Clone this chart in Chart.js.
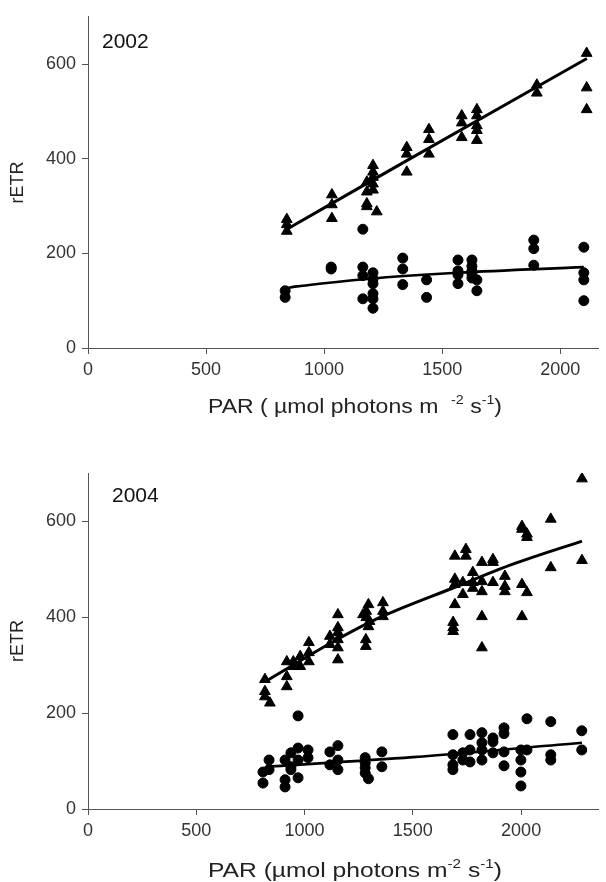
<!DOCTYPE html>
<html>
<head>
<meta charset="utf-8">
<script src="https://cdn.jsdelivr.net/npm/chart.js@4.4.1/dist/chart.umd.min.js"></script>
<style>
  body { margin: 0; background: #fff; }
  canvas { position: absolute; left: 0; }
</style>
</head>
<body>
<canvas id="chart2002" width="606" height="420" style="top:0"></canvas>
<canvas id="chart2004" width="606" height="462" style="top:420px"></canvas>
<script>
// ticks shared by both panels
const xTicks = [0, 500, 1000, 1500, 2000];
const yTicks = [0, 200, 400, 600];

// 2002 - triangles [PAR, rETR]
const tri2002 = [
  [842, 272], [842, 261], [842, 247],
  [1033, 324], [1033, 303], [1033, 274],
  [1181, 351], [1181, 330], [1181, 305], [1181, 299],
  [1207, 386], [1207, 372], [1207, 361], [1207, 347], [1207, 334], [1223, 288],
  [1350, 424], [1350, 410], [1350, 372],
  [1444, 462], [1444, 441], [1444, 410],
  [1583, 491], [1583, 476], [1583, 445],
  [1647, 504], [1647, 491], [1647, 470], [1647, 460], [1647, 439],
  [1901, 556], [1901, 539],
  [2112, 623], [2112, 550], [2112, 504]
];
// 2002 - circles
const dot2002 = [
  [835, 121], [835, 107],
  [1030, 171], [1030, 167],
  [1164, 251], [1164, 171], [1164, 153], [1164, 104],
  [1207, 159], [1207, 146], [1207, 136], [1207, 115], [1207, 104], [1207, 84],
  [1333, 190], [1333, 167], [1333, 134],
  [1434, 144], [1434, 107],
  [1567, 186], [1567, 163], [1567, 155], [1567, 136],
  [1626, 186], [1626, 173], [1626, 163], [1626, 157], [1626, 148],
  [1647, 144], [1647, 121],
  [1888, 228], [1888, 210], [1888, 175],
  [2100, 213], [2100, 159], [2100, 144], [2100, 100]
];
const triFit2002 = [[842, 251], [1350, 396], [2113, 612]];
const dotFit2002 = [[820, 110], [835, 123], [900, 131], [1000, 137], [1180, 146], [1567, 159], [2100, 171]];

// 2004 - triangles
const tri2004 = [
  [817, 270], [817, 245], [817, 234], [840, 221],
  [918, 307], [918, 276], [918, 255],
  [948, 307], [948, 297], [980, 318], [980, 297],
  [1020, 347], [1020, 326], [1020, 307],
  [1117, 360], [1117, 343],
  [1154, 405], [1154, 378], [1154, 368], [1154, 353], [1154, 336], [1154, 311],
  [1295, 426], [1285, 412], [1270, 405], [1285, 399], [1300, 391], [1295, 380],
  [1283, 353], [1283, 339],
  [1362, 430], [1362, 412], [1362, 401],
  [1686, 389], [1686, 378], [1686, 370],
  [1694, 527], [1694, 479], [1694, 468], [1694, 426],
  [1731, 472], [1731, 447],
  [1745, 541], [1745, 527],
  [1777, 493], [1777, 472], [1777, 460],
  [1819, 514], [1819, 474], [1819, 453], [1819, 401], [1819, 336],
  [1870, 520], [1870, 514], [1870, 472],
  [1925, 485], [1925, 464], [1925, 453],
  [2004, 589], [2004, 583], [2004, 468], [2004, 401],
  [2027, 573], [2027, 566], [2027, 451],
  [2137, 604], [2137, 503],
  [2281, 688], [2281, 518]
];
// 2004 - circles
const dot2004 = [
  [808, 77], [808, 54],
  [836, 102], [836, 82],
  [910, 102], [910, 61], [910, 46],
  [937, 117], [937, 88], [937, 82],
  [970, 194], [970, 127], [970, 102], [970, 65],
  [1016, 123], [1016, 107],
  [1117, 119], [1117, 92],
  [1154, 132], [1154, 102], [1154, 82],
  [1280, 107], [1280, 96], [1280, 86], [1280, 75], [1295, 63],
  [1357, 119], [1357, 88],
  [1685, 155], [1685, 113], [1685, 92], [1685, 82],
  [1731, 117], [1731, 102],
  [1764, 155], [1764, 123], [1764, 98],
  [1819, 159], [1819, 138], [1819, 123], [1819, 102],
  [1870, 148], [1870, 140], [1870, 117],
  [1921, 169], [1921, 157], [1921, 119], [1921, 90],
  [1999, 123], [1999, 102], [1999, 77], [1999, 48],
  [2027, 188], [2027, 123],
  [2137, 182], [2137, 113], [2137, 102],
  [2280, 163], [2280, 123]
];
const triFit2004 = [[817, 265], [1150, 353], [1348, 399], [1694, 462], [1962, 510], [2281, 558]];
const dotFit2004 = [[826, 88], [1500, 108], [2281, 138]];

const FONT = '"Liberation Sans", Arial, sans-serif';
const toPts = arr => arr.map(p => ({ x: p[0], y: p[1] }));

// draws year tag, y title and x title with superscripts
const panelText = {
    id: 'panelText',
    afterDraw(chart, args, opts) {
        const ctx = chart.ctx;
        const area = chart.chartArea;
        ctx.save();
        ctx.fillStyle = '#111';

        ctx.font = '21px ' + FONT;
        ctx.textAlign = 'left';
        ctx.textBaseline = 'alphabetic';
        ctx.fillText(opts.year, opts.yearX, opts.yearY);

        ctx.save();
        ctx.translate(18, (area.top + area.bottom) / 2);
        ctx.rotate(-Math.PI / 2);
        ctx.font = '18px ' + FONT;
        ctx.textAlign = 'center';
        ctx.textBaseline = 'middle';
        ctx.fillStyle = '#222';
        ctx.fillText('rETR', 0, 0);
        ctx.restore();

        // x title
        const size = 21, supSize = 13;
        let w = 0;
        opts.title.forEach(p => {
            ctx.font = (p[1] ? supSize : size) + 'px ' + FONT;
            w += ctx.measureText(p[0]).width;
        });
        const sx = opts.titleWidth / w;
        ctx.translate(opts.titleX, opts.titleY);
        ctx.scale(sx, 1);
        let x = -w / 2;
        ctx.fillStyle = '#222';
        opts.title.forEach(p => {
            ctx.font = (p[1] ? supSize : size) + 'px ' + FONT;
            ctx.fillText(p[0], x, p[1] ? -9 : 0);
            x += ctx.measureText(p[0]).width;
        });
        ctx.restore();
    }
};

function buildPanel(id, cfg) {
    const markStyle = { backgroundColor: '#000', borderColor: '#000', borderWidth: 1 };
    return new Chart(document.getElementById(id), {
        type: 'scatter',
        data: {
            datasets: [
                Object.assign({ data: toPts(cfg.tri), pointStyle: 'triangle', pointRadius: 6.2 }, markStyle),
                Object.assign({ data: toPts(cfg.dot), pointStyle: 'circle', pointRadius: 5 }, markStyle),
                { data: toPts(cfg.triFit), showLine: true, pointRadius: 0, borderColor: '#000',
                  borderWidth: 3, cubicInterpolationMode: 'monotone' },
                { data: toPts(cfg.dotFit), showLine: true, pointRadius: 0, borderColor: '#000',
                  borderWidth: 2.6, cubicInterpolationMode: 'monotone' }
            ]
        },
        options: {
            responsive: false,
            animation: false,
            devicePixelRatio: 1,
            layout: { padding: { left: 0, right: 8, top: cfg.padTop, bottom: 0 } },
            plugins: {
                legend: { display: false },
                tooltip: { enabled: false },
                panelText: cfg.text
            },
            scales: {
                x: {
                    type: 'linear',
                    min: 0,
                    max: cfg.xMax,
                    afterBuildTicks: s => { s.ticks = xTicks.map(v => ({ value: v })); },
                    afterFit: s => { s.height = cfg.xAxisH; },
                    grid: { drawOnChartArea: false, tickLength: 6, color: '#555' },
                    border: { color: '#555', width: 1 },
                    ticks: { padding: 5, color: '#333', font: { family: FONT, size: 18 },
                             callback: v => String(v) }
                },
                y: {
                    min: 0,
                    max: 700,
                    afterBuildTicks: s => { s.ticks = yTicks.map(v => ({ value: v })); },
                    afterFit: s => { s.width = 88; },
                    grid: { drawOnChartArea: false, tickLength: 6, color: '#555' },
                    border: { color: '#555', width: 1 },
                    ticks: { padding: 6, color: '#333', font: { family: FONT, size: 18 },
                             callback: v => String(v) }
                }
            }
        },
        plugins: [panelText]
    });
}

buildPanel('chart2002', {
    tri: tri2002, dot: dot2002, triFit: triFit2002, dotFit: dotFit2002,
    xMax: 2160, padTop: 13, xAxisH: 72,
    text: {
        year: '2002', yearX: 102, yearY: 48,
        title: [['PAR ( \u00b5mol photons m  ', false], ['-2', true], [' s', false], ['-1', true], [')', false]],
        titleX: 355, titleY: 413, titleWidth: 294
    }
});

buildPanel('chart2004', {
    tri: tri2004, dot: dot2004, triFit: triFit2004, dotFit: dotFit2004,
    xMax: 2355, padTop: 53, xAxisH: 73,
    text: {
        year: '2004', yearX: 112, yearY: 82,
        title: [['PAR (\u00b5mol photons m', false], ['-2', true], [' s', false], ['-1', true], [')', false]],
        titleX: 355, titleY: 457, titleWidth: 294
    }
});
</script>
</body>
</html>
